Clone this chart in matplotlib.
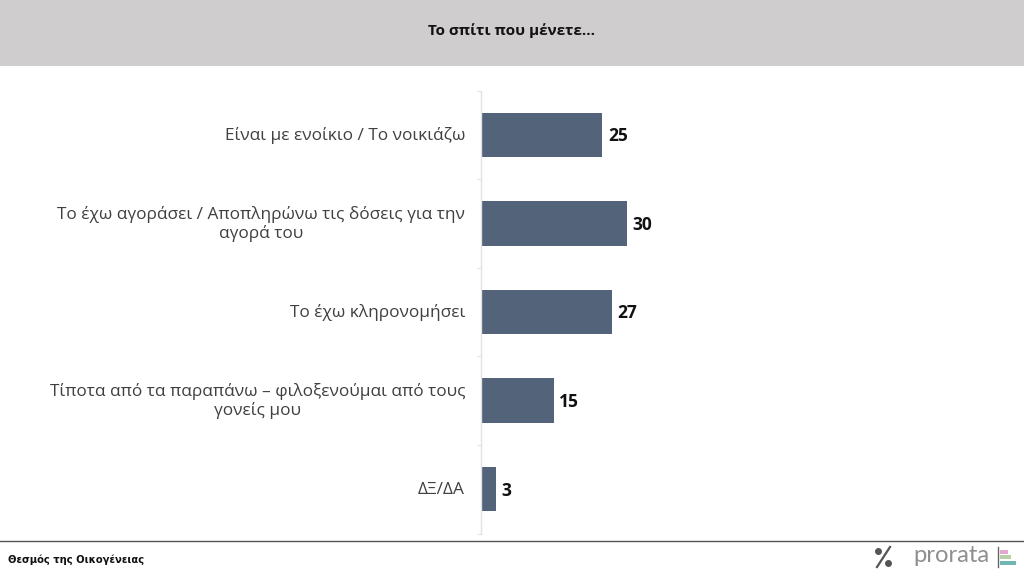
import matplotlib
matplotlib.use('Agg')
import matplotlib.pyplot as plt
from matplotlib.patches import Rectangle
from matplotlib.lines import Line2D

# Chart data
categories = [
    'Είναι με ενοίκιο / Το νοικιάζω',
    'Το έχω αγοράσει / Αποπληρώνω τις δόσεις για την\nαγορά του',
    'Το έχω κληρονομήσει',
    'Τίποτα από τα παραπάνω – φιλοξενούμαι από τους\nγονείς μου',
    'ΔΞ/ΔΑ',
]
values = [25, 30, 27, 15, 3]
title = 'Το σπίτι που μένετε...'
footer = 'Θεσμός της Οικογένειας'

W, H = 1024, 574
BAR_COLOR = '#52637a'

plt.rcParams['font.family'] = ['Open Sans', 'DejaVu Sans']

fig = plt.figure(figsize=(W / 100, H / 100), dpi=100, facecolor='white')


def fx(px):
    return px / W


def fy(py):
    return 1 - py / H


# Grey header band
fig.add_artist(Rectangle((0, fy(66)), 1, 66 / H, transform=fig.transFigure, color='#cfcdcd', lw=0))
fig.text(fx(512), fy(31), title, ha='center', va='center', fontsize=11, fontweight='bold', color='#111111')

# Main axes, positioned so the bars land where they do in the reference
ax = fig.add_axes([fx(481), fy(533.5), 4.85 * 112 / W, 443 / H])
ypos = list(range(len(values)))
ax.barh(ypos, values, height=0.5, color=BAR_COLOR)
ax.set_xlim(0, 112)
ax.set_ylim(len(values) - 0.5, -0.5)

for y, v in zip(ypos, values):
    ax.annotate(str(v), (v, y), xytext=(4, -1), textcoords='offset points', ha='left', va='center',
                fontsize=12.5, fontweight='bold', color='#111111')

ax.set_xticks([])
ax.set_yticks([y - 0.5 for y in ypos] + [len(values) - 0.5])
ax.set_yticklabels([])
ax.tick_params(axis='y', length=3, color='#e2e2e2', width=0.8)
for s in ['top', 'right', 'bottom']:
    ax.spines[s].set_visible(False)
ax.spines['left'].set_color('#e2e2e2')
ax.spines['left'].set_linewidth(1)

# Category labels, right aligned against the axis
for y, c in zip(ypos, categories):
    ax.annotate(c, (0, y), xytext=(-11.5, -0.5), textcoords='offset points', ha='right', va='center',
                fontsize=12.4, color='#404040', linespacing=1.15, multialignment='center')

# Footer
fig.add_artist(Line2D([0, 1], [fy(541), fy(541)], transform=fig.transFigure, color='#555555', lw=1))
fig.text(fx(8), fy(560), footer, ha='left', va='center', fontsize=7.2, fontweight='bold', color='#111111', family='DejaVu Sans')

# Percent logo
fig.add_artist(Line2D([fx(877), fx(890)], [fy(567), fy(547)], transform=fig.transFigure, color='#555555', lw=1.6))
fig.add_artist(Line2D([fx(878)], [fy(551)], transform=fig.transFigure, marker='o', ms=4, color='#555555', lw=0))
fig.add_artist(Line2D([fx(888)], [fy(563)], transform=fig.transFigure, marker='o', ms=4, color='#555555', lw=0))
fig.text(fx(913), fy(556), 'prorata', ha='left', va='center', fontsize=17.2, color='#8f8f8f', family='Lato')

# Little logo mark next to the wordmark
fig.add_artist(Line2D([fx(997.5), fx(997.5)], [fy(547), fy(567)], transform=fig.transFigure, color='#666666', lw=1))
for top, w, col in [(550, 8, '#e3a6cf'), (555, 11, '#b9cfa8'), (561, 16, '#6fb5b5')]:
    fig.add_artist(Rectangle((fx(1000), fy(top + 4)), w / W, 4 / H, transform=fig.transFigure, color=col, lw=0))

fig.savefig('out.png', dpi=100)
